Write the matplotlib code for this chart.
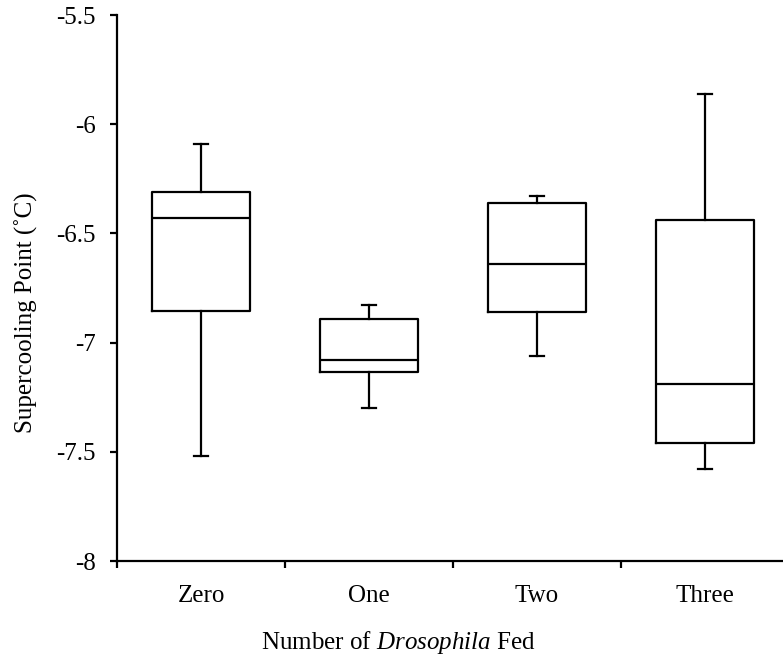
import matplotlib
matplotlib.use("Agg")
import matplotlib.pyplot as plt
from matplotlib.ticker import FixedLocator

plt.rcParams['font.family'] = ['Liberation Serif', 'DejaVu Serif']
plt.rcParams['mathtext.fontset'] = 'custom'
plt.rcParams['mathtext.rm'] = 'Liberation Serif'
plt.rcParams['mathtext.it'] = 'Liberation Serif:italic'

# Box plot summaries
groups = ["Zero", "One", "Two", "Three"]
whisker_high = [-6.09, -6.83, -6.33, -5.86]
q3 = [-6.31, -6.89, -6.36, -6.44]
median = [-6.43, -7.08, -6.64, -7.19]
q1 = [-6.855, -7.135, -6.86, -7.46]
whisker_low = [-7.52, -7.30, -7.06, -7.58]

stats = []
for i, name in enumerate(groups):
    stats.append({
        "label": name,
        "whishi": whisker_high[i],
        "q3": q3[i],
        "med": median[i],
        "q1": q1[i],
        "whislo": whisker_low[i],
        "fliers": [],
    })

fig = plt.figure(figsize=(7.83, 6.56), dpi=100)
ax = fig.add_axes([117 / 783, 95 / 656, 672 / 783, 546 / 656])

lw = 1.6
fs = 18
positions = [1, 2, 3, 4]
ax.bxp(stats, positions=positions, widths=0.58, capwidths=0.085,
       showfliers=False, patch_artist=False,
       boxprops=dict(color="black", linewidth=lw),
       whiskerprops=dict(color="black", linewidth=lw),
       capprops=dict(color="black", linewidth=lw),
       medianprops=dict(color="black", linewidth=lw))

ax.set_xlim(0.5, 4.5)
ax.set_ylim(-8, -5.5)
ax.set_yticks([-8, -7.5, -7, -6.5, -6, -5.5])
ax.set_yticklabels(["-8", "-7.5", "-7", "-6.5", "-6", "-5.5"])

ax.set_xticks(positions)
ax.set_xticklabels(groups)
ax.xaxis.set_minor_locator(FixedLocator([0.5, 1.5, 2.5, 3.5, 4.5]))
ax.tick_params(axis="x", which="major", length=0, pad=17, labelsize=fs)
ax.tick_params(axis="x", which="minor", length=5, width=lw, direction="out")
ax.tick_params(axis="y", length=5, width=lw, direction="out", pad=10.5, labelsize=fs)

for side in ["top", "right"]:
    ax.spines[side].set_visible(False)
for side in ["left", "bottom"]:
    ax.spines[side].set_linewidth(lw)

ax.set_ylabel("Supercooling Point (˚C)", fontsize=fs, ha="center", va="center")
ax.yaxis.set_label_coords((26 - 117) / 672, (561 - 313) / 546)
ax.set_xlabel("Number of $\\it{Drosophila}$ Fed", fontsize=fs, ha="center", va="baseline")
ax.xaxis.set_label_coords((398 - 117) / 672, -(649 - 561) / 546)

fig.savefig("out.png", dpi=100)
